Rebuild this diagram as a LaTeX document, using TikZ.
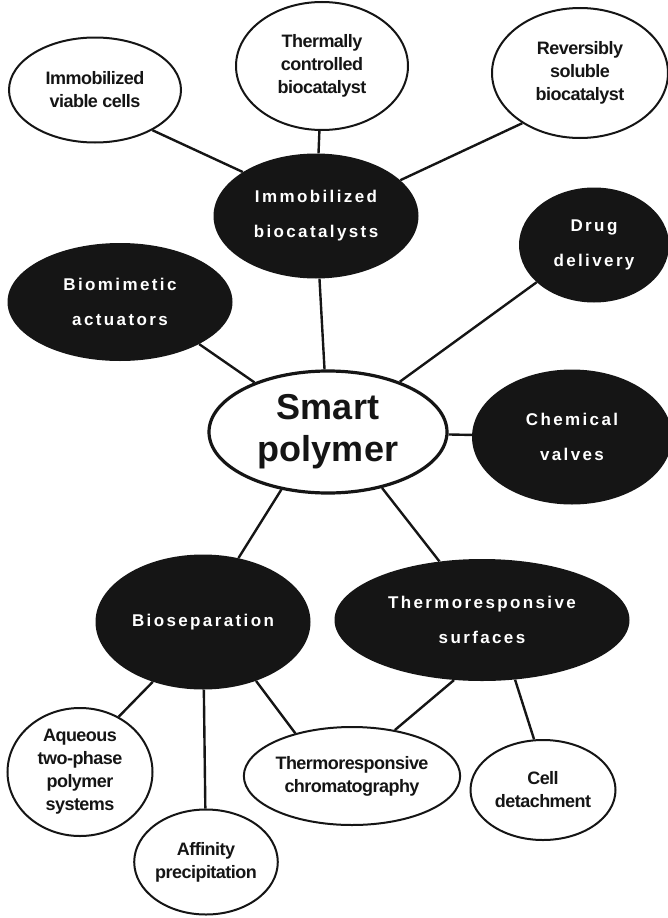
\documentclass[tikz,border=0pt]{standalone}
\usepackage{fontspec}
\setmainfont{Liberation Sans}
\usetikzlibrary{shapes.geometric}
\definecolor{ink}{HTML}{151515}
\tikzset{
  wnode/.style={ellipse, draw=ink, line width=2pt, fill=white, text=ink, align=center, inner sep=0pt,
    font=\bfseries\fontsize{18}{23}\selectfont\addfontfeature{LetterSpace=-3}},
  bnode/.style={ellipse, fill=ink, text=white, align=center, inner sep=0pt,
    font=\bfseries\fontsize{17}{35}\selectfont\addfontfeature{LetterSpace=14}},
  snode/.style={ellipse, draw=ink, line width=3.2pt, fill=white, text=ink, align=center, inner sep=0pt,
    font=\bfseries\fontsize{36}{42}\selectfont},
  link/.style={draw=ink, line width=2.4pt}
}
\begin{document}
\begin{tikzpicture}[x=1pt, y=-1pt]
\useasboundingbox (0,0) rectangle (668,918);
% nodes
\node[wnode, minimum width=172pt, minimum height=105pt] (cells) at (95,90) {Immobilized\\viable cells};
\node[wnode, minimum width=172pt, minimum height=128pt] (thermal) at (322,66) {Thermally\\controlled\\biocatalyst};
\node[wnode, minimum width=176pt, minimum height=130pt] (rev) at (580,73) {Reversibly\\soluble\\biocatalyst};
\node[bnode, minimum width=205pt, minimum height=125pt] (immob) at (316,216) {Immobilized\\biocatalysts};
\node[bnode, minimum width=150pt, minimum height=115pt] (drug) at (594,245) {Drug\\delivery};
\node[bnode, minimum width=225pt, minimum height=118pt] (biomim) at (120,302) {Biomimetic\\actuators};
\node[snode, minimum width=238pt, minimum height=122pt] (smart) at (328,432) {Smart\\polymer};
\node[bnode, minimum width=200pt, minimum height=135pt] (valves) at (572,437) {Chemical\\valves};
\node[bnode, minimum width=215pt, minimum height=135pt] (biosep) at (203,622) {Bioseparation};
\node[bnode, minimum width=295pt, minimum height=122pt] (tsurf) at (482,620) {Thermoresponsive\\surfaces};
\node[wnode, minimum width=145pt, minimum height=128pt] (aq) at (80,772) {Aqueous\\two-phase\\polymer\\systems};
\node[wnode, minimum width=143pt, minimum height=105pt] (aff) at (206,862) {Affinity\\precipitation};
\node[wnode, minimum width=188pt, minimum height=98pt] (chrom) at (352,776) {Thermoresponsive\\chromatography};
\node[wnode, minimum width=145pt, minimum height=100pt] (cell) at (543,790) {Cell\\detachment};
% connectors
\draw[link] (cells.-35) -- (immob.149);
\draw[link] (thermal) -- (immob);
\draw[link] (rev.221) -- (immob.23);
\draw[link] (immob) -- (smart);
\draw[link] (biomim.-28) -- (smart.146);
\draw[link] (drug.213) -- (smart.35);
\draw[link] (smart) -- (valves);
\draw[link] (smart.-129) -- (biosep.61);
\draw[link] (smart.-46) -- (tsurf.126);
\draw[link] (biosep.-130) -- (aq.55);
\draw[link] (biosep) -- (aff);
\draw[link] (biosep.-48) -- (chrom.143);
\draw[link] (tsurf.-115) -- (chrom.47);
\draw[link] (tsurf.-61) -- (cell.100);
\end{tikzpicture}
\end{document}
